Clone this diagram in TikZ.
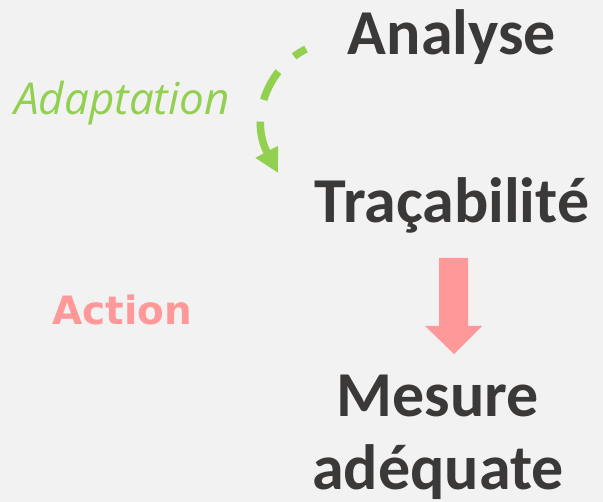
\documentclass[tikz,border=0pt]{standalone}
\usepackage{fontspec}
\usepackage{tikz}
\usetikzlibrary{arrows.meta}
\newfontfamily\carlito{Carlito}
\newfontfamily\opensans{Open Sans}
\newfontfamily\dejavu{DejaVu Sans}
\definecolor{bgcol}{HTML}{F2F2F2}
\definecolor{darktxt}{HTML}{3B3838}
\definecolor{adaptgreen}{HTML}{92D050}
\definecolor{actpink}{HTML}{FF9999}

\begin{document}
\begin{tikzpicture}[x=1pt,y=-1pt,
  word/.style={inner sep=0pt,anchor=base,text=darktxt,align=center,
    font=\carlito\bfseries\fontsize{64}{73}\selectfont},
  adapt/.style={inner sep=0pt,anchor=base west,text=adaptgreen,
    font=\opensans\itshape\fontsize{44}{50}\selectfont},
  act/.style={inner sep=0pt,anchor=base west,text=actpink,
    font=\dejavu\bfseries\fontsize{39}{44}\selectfont},
  >=Triangle]
  % background
  \fill[bgcol] (0,0) rectangle (603,502);
  \useasboundingbox (0,0) rectangle (603,502);
  % the three steps (base of a two-line node is its last line)
  \node[word] (analyse) at (452,55) {Analyse};
  \node[word] (traca) at (452,223) {Traçabilité};
  \node[word] (mesure) at (438,490) {Mesure\\adéquate};
  % side labels
  \node[adapt] (adaptlbl) at (14,115) {Adaptation};
  \node[act] (actlbl) at (52,325) {Action};
  % dashed loop back from the analysis
  \coordinate (adstart) at (306,49);
  \coordinate (adend) at (278,173);
  \draw[adaptgreen,line width=7.5pt,dash pattern=on 32pt off 22pt,dash phase=18pt,
    -{Triangle[length=24pt,width=24pt]}]
    (adstart) .. controls (265,70) and (250,120) .. (adend);
  % block arrow towards the measure
  \fill[actpink] (439,258) -- (468,258) -- (468,326) -- (482,326)
    -- (454,354) -- (425,326) -- (439,326) -- cycle;
\end{tikzpicture}
\end{document}
